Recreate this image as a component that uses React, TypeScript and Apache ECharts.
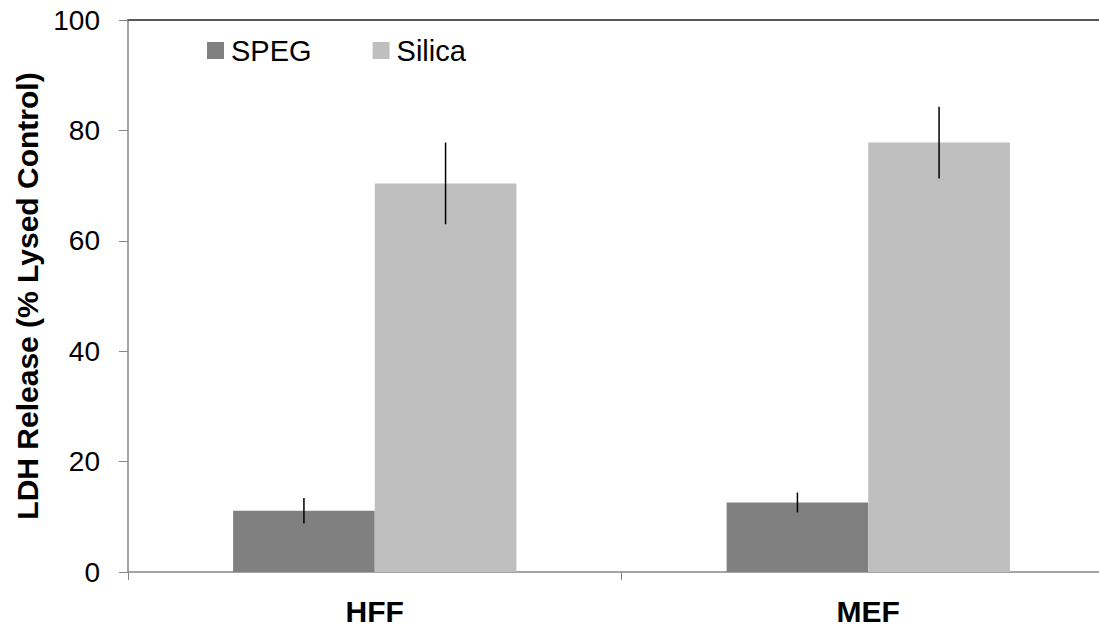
import React, { useEffect, useRef } from "react";
import * as echarts from "echarts";

const categories = ["HFF", "MEF"];
const spegValues = [11.1, 12.6];
const spegErrors = [2.3, 1.8];
const silicaValues = [70.4, 77.8];
const silicaErrors = [7.4, 6.5];
const yTicks = { min: 0, max: 100, interval: 20 };

const FONT = "'Liberation Sans', Arial, sans-serif";
const BAR_FRAC = 0.287;

export default function App() {
  const ref = useRef<HTMLDivElement>(null);
  useEffect(() => {
    if (!ref.current) return;
    const chart = echarts.init(ref.current, null, { renderer: "svg" });

    const errData = (vals: number[], errs: number[], side: number) =>
      vals.map((v, i) => [i, v - errs[i], v + errs[i], side]);

    const renderErr = (params: any, api: any) => {
      const idx = api.value(0);
      const lo = api.coord([idx, api.value(1)]);
      const hi = api.coord([idx, api.value(2)]);
      const side = api.value(3);
      const bw = api.size([1, 0])[0] * BAR_FRAC;
      const x = lo[0] + side * bw / 2;
      return {
        type: "line",
        shape: { x1: x, y1: hi[1], x2: x, y2: lo[1] },
        style: { stroke: "#000", lineWidth: 1.5 },
      };
    };

    chart.setOption({
      animation: false,
      backgroundColor: "#fff",
      textStyle: { fontFamily: FONT },
      grid: {
        left: 128,
        top: 20,
        height: 552,
        width: 987,
        containLabel: false,
        outerBoundsMode: "none",
      },
      legend: {
        left: 202,
        top: 31,
        itemWidth: 17,
        itemHeight: 17,
        itemGap: 61,
        icon: "rect",
        textStyle: { fontSize: 29, color: "#000", fontFamily: FONT, padding: [0, 0, 0, 2] },
        data: ["SPEG", "Silica"],
      },
      xAxis: [
        {
          type: "category",
          data: categories,
          axisLine: { lineStyle: { color: "#868686", width: 1.5 } },
          axisTick: { show: true, length: 8, lineStyle: { color: "#868686" } },
          axisLabel: { fontSize: 30, fontWeight: "bold", color: "#000", margin: 24, fontFamily: FONT },
        },
        {
          type: "category",
          data: categories,
          position: "top",
          axisLine: { show: true, lineStyle: { color: "#595959", width: 2 } },
          axisTick: { show: false },
          axisLabel: { show: false },
        },
      ],
      yAxis: {
        type: "value",
        min: yTicks.min,
        max: yTicks.max,
        interval: yTicks.interval,
        name: "LDH Release (% Lysed Control)",
        nameLocation: "middle",
        nameGap: 84,
        nameTextStyle: { fontSize: 30, fontWeight: "bold", color: "#000", fontFamily: FONT },
        axisLine: { show: true, lineStyle: { color: "#868686", width: 1.5 } },
        axisTick: { show: true, length: 9, lineStyle: { color: "#868686" } },
        axisLabel: { fontSize: 28, color: "#000", margin: 28, fontFamily: FONT },
        splitLine: { show: false },
      },
      series: [
        {
          name: "SPEG",
          type: "bar",
          data: spegValues,
          barWidth: BAR_FRAC * 100 + "%",
          barGap: "0%",
          itemStyle: { color: "#808080" },
        },
        {
          name: "Silica",
          type: "bar",
          data: silicaValues,
          barWidth: BAR_FRAC * 100 + "%",
          barGap: "0%",
          itemStyle: { color: "#bfbfbf" },
        },
        {
          type: "custom",
          renderItem: renderErr,
          data: errData(spegValues, spegErrors, -1),
          z: 10,
          silent: true,
        },
        {
          type: "custom",
          renderItem: renderErr,
          data: errData(silicaValues, silicaErrors, 1),
          z: 10,
          silent: true,
        },
      ],
    });
    return () => chart.dispose();
  }, []);
  return (
    <div
      ref={ref}
      style={{ position: "fixed", left: 0, top: 0, width: 1099, height: 627 }}
    />
  );
}
